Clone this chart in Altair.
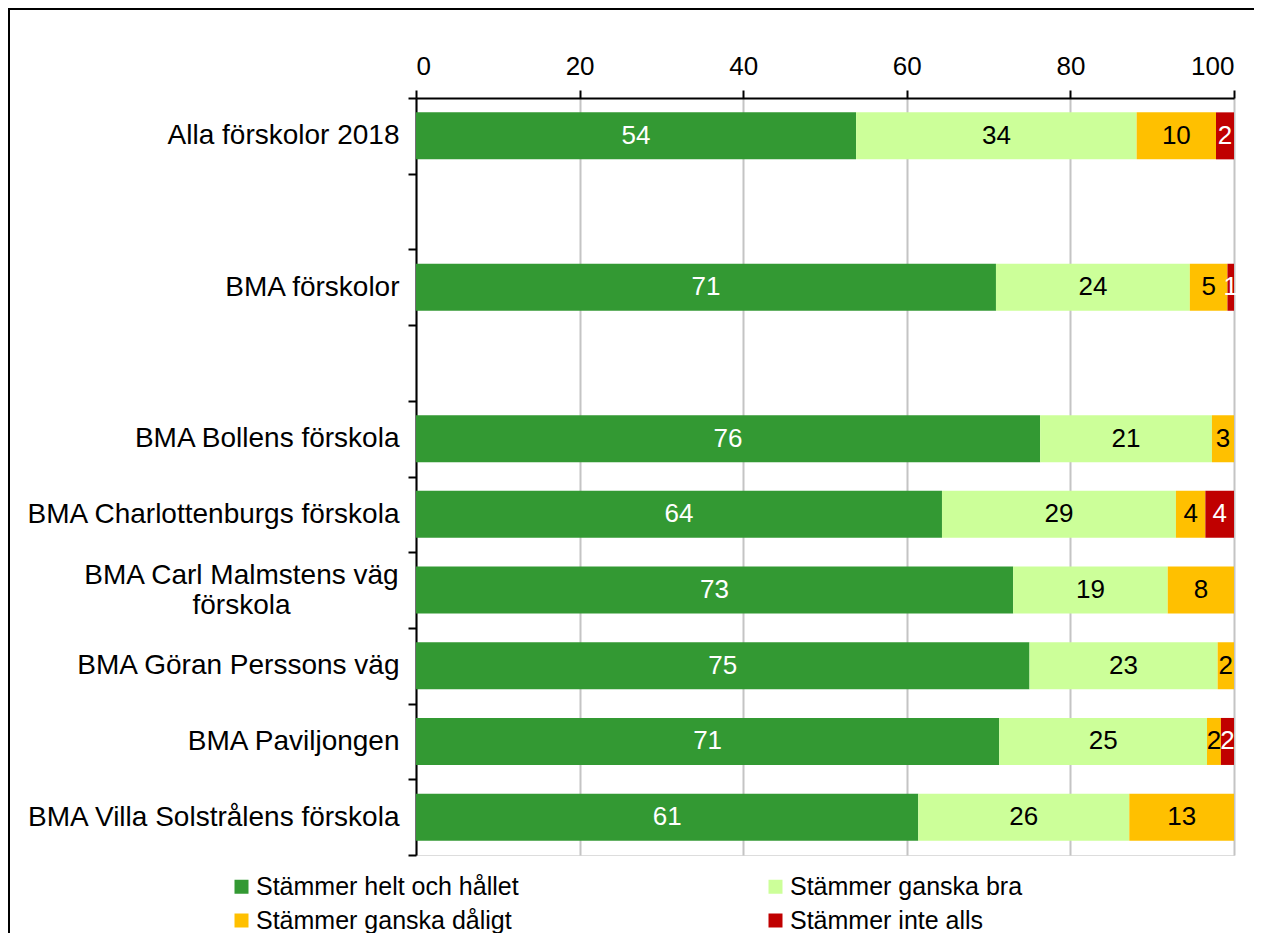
import altair as alt
import pandas as pd

categories = [
    "Alla förskolor 2018", " ", "BMA förskolor", "  ",
    "BMA Bollens förskola", "BMA Charlottenburgs förskola",
    "BMA Carl Malmstens väg förskola", "BMA Göran Perssons väg",
    "BMA Paviljongen", "BMA Villa Solstrålens förskola",
]
series = ["Stämmer helt och hållet", "Stämmer ganska bra",
          "Stämmer ganska dåligt", "Stämmer inte alls"]
colors = ["#339933", "#CCFF99", "#FFC000", "#C00000"]

helt    = [53.8, None, 70.9, None, 76.3, 64.3, 73.0, 75.0, 71.3, 61.4]
bra     = [34.3, None, 23.7, None, 21.0, 28.6, 18.9, 23.0, 25.4, 25.8]
daligt  = [9.7,  None, 4.6,  None, 2.7,  3.6,  8.1,  2.0,  1.7,  12.8]
inte    = [2.2,  None, 0.8,  None, 0.0,  3.5,  0.0,  0.0,  1.6,  0.0]

rows = []
for i, c in enumerate(categories):
    for k, (s, vals) in enumerate(zip(series, [helt, bra, daligt, inte])):
        v = vals[i]
        if v is not None and v > 0:
            rows.append({"cat": c, "serie": s, "order": k, "value": v})
df = pd.DataFrame(rows)

FONT = "Liberation Sans"
W, H = 818, 757
WRAP = "BMA Carl Malmstens väg förskola"
wrap_test = "datum.value == '" + WRAP + "'"

ysc = alt.Scale(domain=categories, paddingInner=0, paddingOuter=0)
label_expr = ("datum.value == '" + WRAP + "' ? "
              "['BMA Carl Malmstens väg', 'förskola'] : datum.label")

base = alt.Chart(df)

bars = base.mark_bar(size=47).encode(
    y=alt.Y("cat:N", scale=ysc, sort=categories, title=None,
            axis=alt.Axis(tickBand="extent", labelFontSize=28, labelFont=FONT,
                          labelColor="black", labelLimit=500,
                          labelPadding={"condition": {"test": wrap_test, "value": 167}, "value": 9},
                          labelAlign={"condition": {"test": wrap_test, "value": "center"}, "value": "right"},
                          labelOffset={"condition": {"test": wrap_test, "value": -15}, "value": 0},
                          labelLineHeight=30, labelExpr=label_expr,
                          tickSize=8, tickWidth=2, tickColor="black",
                          domainColor="black", domainWidth=2, grid=False)),
    x=alt.X("value:Q", stack="zero", title=None,
            scale=alt.Scale(domain=[0, 100], nice=False),
            axis=alt.Axis(orient="top", values=[0, 20, 40, 60, 80, 100],
                          labelFontSize=26, labelFont=FONT, labelColor="black",
                          labelPadding=11, tickSize=8, tickWidth=2,
                          tickColor="black", domainColor="black", domainWidth=2,
                          grid=True, gridColor="#c4c4c4", gridWidth=2)),
    color=alt.Color("serie:N", sort=series,
                    scale=alt.Scale(domain=series, range=colors),
                    legend=alt.Legend(orient="none", legendX=-187, legendY=776,
                                      columns=2, direction="horizontal",
                                      title=None, symbolType="square",
                                      symbolSize=196, symbolStrokeWidth=0,
                                      symbolOpacity=1,
                                      labelFontSize=25, labelFont=FONT,
                                      labelColor="black", labelOffset=2,
                                      labelLimit=500,
                                      columnPadding=244, rowPadding=8,
                                      padding=0)),
    order=alt.Order("order:Q"),
)

labels = base.transform_stack(
    stack="value", as_=["x0", "x1"], groupby=["cat"],
    sort=[alt.SortField("order", order="ascending")]
).transform_calculate(
    mid="(datum.x0 + datum.x1) / 2",
    lab="format(round(datum.value), 'd')"
).mark_text(fontSize=26, font=FONT, baseline="middle", align="center").encode(
    y=alt.Y("cat:N", scale=ysc, sort=categories),
    x=alt.X("mid:Q"),
    text="lab:N",
    color=alt.condition(
        "datum.order == 0 || datum.order == 3",
        alt.value("white"), alt.value("black")),
)

frame_left = alt.Chart(pd.DataFrame({"a": [0]})).mark_rule(
    color="black", strokeWidth=2).encode(
    x=alt.value(-407), y=alt.value(-89), y2=alt.value(H + 80))
frame_top = alt.Chart(pd.DataFrame({"a": [0]})).mark_rule(
    color="black", strokeWidth=2).encode(
    x=alt.value(-408), x2=alt.value(W + 30), y=alt.value(-89))

chart = alt.layer(bars, labels, frame_left, frame_top).resolve_scale(
    color="independent"
).properties(
    width=W, height=H,
    autosize=alt.AutoSizeParams(type="none"),
    padding={"left": 408, "top": 90, "right": 20, "bottom": 78},
).configure_view(stroke=None).configure(background="white")

chart.save("out.html", embed_options={"renderer": "svg", "actions": False})
